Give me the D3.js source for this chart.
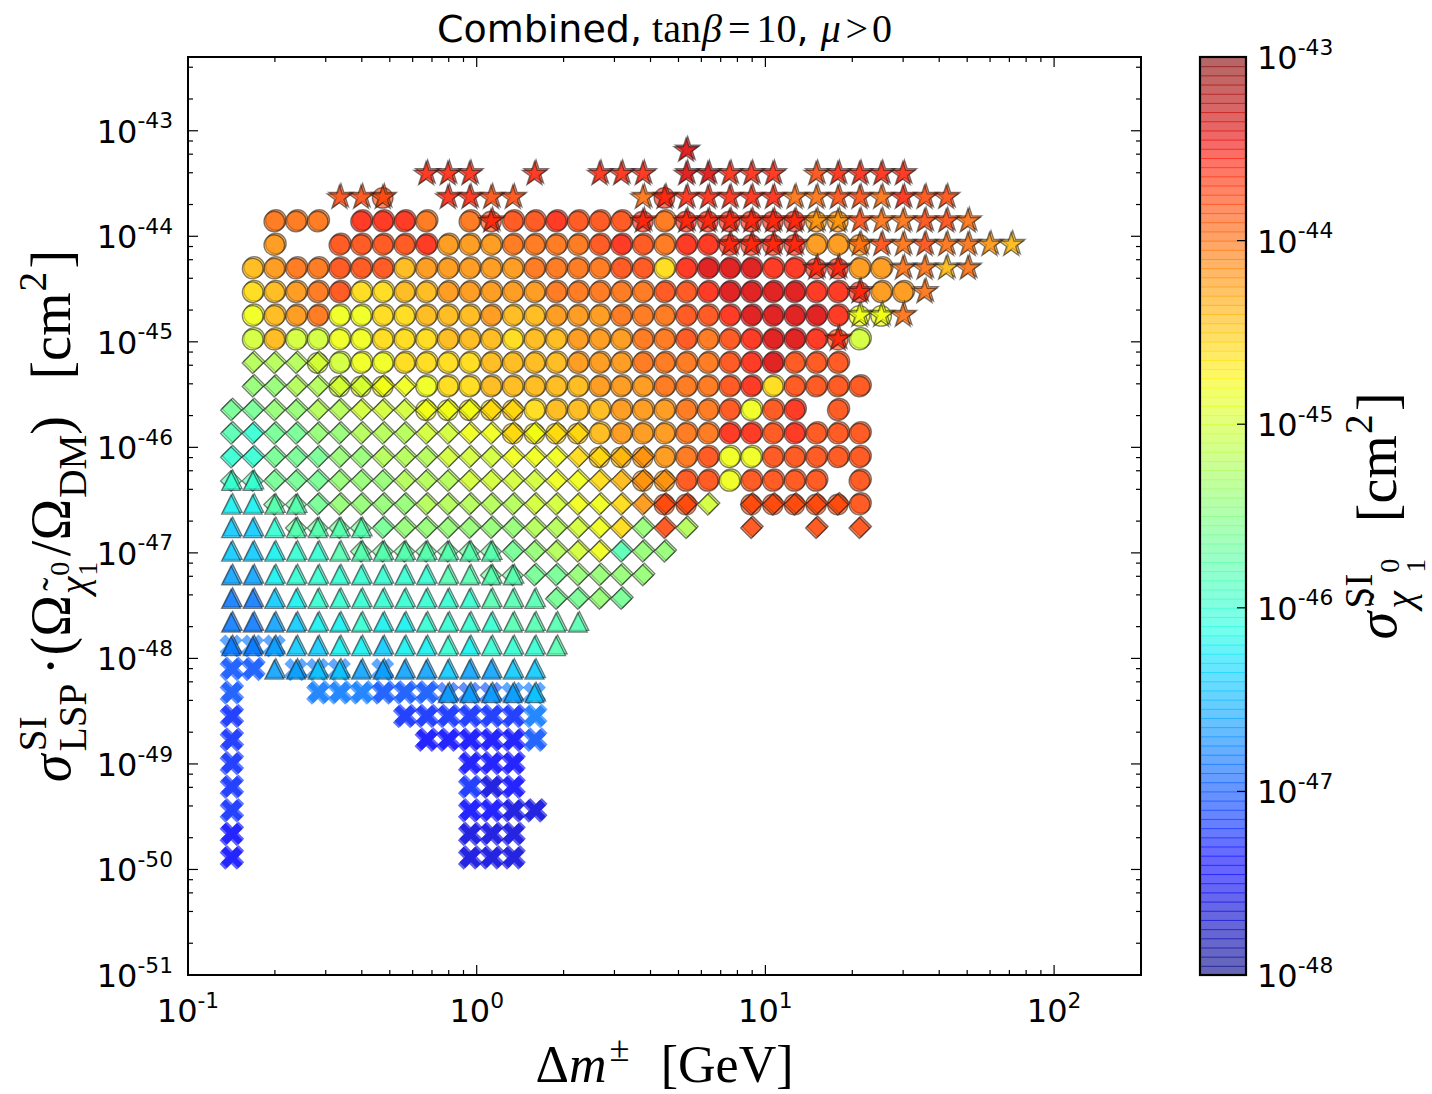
<!DOCTYPE html>
<html>
<head>
<meta charset="utf-8">
<script src="https://cdn.jsdelivr.net/npm/d3@7"></script>
<style>
  body { margin: 0; background: #fff; }
  svg { display: block; }
</style>
</head>
<body>
<div id="chart"></div>
<script>
// chargino-neutralino mass splitting bins (GeV), one per column of markers
const dmBins = [0.141, 0.1675, 0.199, 0.2366, 0.2812, 0.3344, 0.3975, 0.4725, 0.5617, 0.6677,
  0.7937, 0.9434, 1.121, 1.333, 1.585, 1.883, 2.239, 2.661, 3.163, 3.760,
  4.469, 5.312, 6.315, 7.506, 8.923, 10.61, 12.61, 14.98, 17.81, 21.17,
  25.17, 29.92, 35.56, 42.27, 50.23, 59.7, 71.0];

// rescaled cross-section bins (cm^2), one per row of markers, top to bottom
const sigmaRowBins = [6.47e-44, 3.87e-44, 2.31e-44, 1.38e-44, 8.26e-45, 4.94e-45, 2.95e-45, 1.76e-45,
  1.05e-45, 6.30e-46, 3.77e-46, 2.25e-46, 1.35e-46, 8.04e-47, 4.81e-47, 2.87e-47, 1.72e-47,
  1.03e-47, 6.14e-48, 3.67e-48, 2.19e-48, 1.31e-48, 7.83e-49, 4.68e-49, 2.80e-49, 1.67e-49,
  1.00e-49, 5.98e-50, 3.57e-50, 2.14e-50, 1.28e-50];

// colour code -> unscaled sigma_SI: code k means log10(sigma) = -48 + 0.2*k
const colourCodes = "0123456789ABCDEFGHIJKLMNOP";

// marker kinds: o circle, d diamond, t triangle, s star, x filled cross
// each cell is "<column><kind><colour>[<kind><colour>]"
const rows = [
  "21sN",
  "9sM 10sM 11sM 14sM 17sM 18sM 19sM 21sN 22sN 23sM 24sM 25sM 27sL 28sM 29sM 30sM 31sM",
  "5sL 6sL 7oLsL 10sM 11sM 12sL 13sL 19sK 20oMsM 21sM 22sM 23sM 24sM 25sM 26sK 27sK 28sL 29sL 30sK 31sM 32sL 33sL",
  "2oK 3oK 4oK 6oM 7oM 8oM 9oK 11oK 12oLsM 13oL 14oL 15oM 16oL 17oL 18oL 19oMsM 20oK 21oMsM 22oMsM 23oMsM 24oMsM 25oMsM 26oMsM 27oJsJ 28oJsJ 29sL 30sK 31sK 32sL 33sL 34sK",
  "2oJ 5oL 6oL 7oL 8oL 9oM 10oJ 11oJ 12oJ 13oK 14oK 15oK 16oK 17oL 18oM 19oL 20oK 21oM 22oM 23oMsM 24oMsM 25oMsM 26oMsM 27oJ 28oJ 29oJsK 30sL 31sK 32sL 33sK 34sK 35sJ 36sI",
  "1oI 2oJ 3oK 4oK 5oL 6oL 7oL 8oI 9oJ 10oJ 11oJ 12oJ 13oJ 14oK 15oK 16oK 17oK 18oL 19oL 20oH 21oM 22oN 23oN 24oN 25oM 26oM 27oMsM 28oMsM 29oJ 30oJ 31sK 32sK 33sI 34sK",
  "1oH 2oI 3oJ 4oK 5oL 6oH 7oH 8oI 9oI 10oJ 11oJ 12oJ 13oJ 14oJ 15oK 16oK 17oK 18oK 19oK 20oL 21oL 22oM 23oN 24oN 25oN 26oN 27oM 28oM 29oMsM 30oJ 31oJ 32sK",
  "1oG 2oI 3oJ 4oK 5oG 6oG 7oH 8oH 9oI 10oI 11oI 12oJ 13oI 14oI 15oJ 16oJ 17oJ 18oK 19oK 20oK 21oL 22oL 23oM 24oN 25oN 26oN 27oN 28oM 29oGsG 30oGsG 31sK",
  "1oF 2oI 3oF 4oF 5oG 6oG 7oH 8oH 9oH 10oI 11oI 12oI 13oH 14oI 15oI 16oJ 17oJ 18oJ 19oK 20oK 21oL 22oK 23oL 24oM 25oN 26oN 27oM 28oLsM 29oF",
  "1dE 2dE 3dE 4oFdF 5oF 6oG 7oG 8oH 9oH 10oH 11oH 12oI 13oI 14oI 15oI 16oJ 17oJ 18oJ 19oK 20oK 21oK 22oK 23oL 24oM 25oN 26oL 27oL 28oL",
  "1dD 2dD 3dE 4dE 5oFdF 6oGdF 7oGdG 8dG 9oG 10oH 11oH 12oI 13oI 14oI 15oI 16oI 17oJ 18oJ 19oJ 20oK 21oK 22oK 23oL 24oM 25oH 26oL 27oL 28oL 29oL",
  "0dC 1dC 2dD 3dD 4dE 5dE 6dF 7dF 8dF 9oGdG 10oGdG 11oHdG 12oHdH 13oIdH 14oH 15oI 16oI 17oI 18oJ 19oJ 20oJ 21oK 22oK 23oL 24oG 25oL 26oM 28oL",
  "0dB 1dA 2dC 3dC 4dD 5dD 6dE 7dE 8dE 9dF 10dF 11dG 12dG 13oHdH 14oHdG 15oHdH 16oIdH 17oI 18oJ 19oJ 20oJ 21oK 22oK 23oM 24oM 25oL 26oM 27oL 28oL 29oL",
  "0dA 1dA 2dC 3dC 4dC 5dD 6dD 7dE 8dE 9dE 10dF 11dF 12dF 13dG 14dG 15dG 16dH 17oIdH 18oIdI 19oJdJ 20oJ 21oK 22oL 23oG 24oG 25oL 26oL 27oL 28oL 29oL",
  "0dBtA 1dBtA 2dC 3dC 4dC 5dD 6dD 7dD 8dE 9dE 10dE 11dF 12dF 13dF 14dF 15dG 16dG 17dH 18dI 19oJdJ 20oJdJ 21oL 22oL 23oG 24oL 25oL 26oL 27oL 29oL",
  "0t9 1t9 2dCtB 3dCtB 4dC 5dD 6dD 7dD 8dD 9dE 10dE 11dE 12dE 13dE 14dF 15dF 16dG 17dG 18dH 19dJ 20oLdL 21oLdL 22dF 24oLdL 25oLdL 26oLdL 27oLdL 28oLdL 29oL",
  "0t8 1t8 2tA 3dCtB 4dCtB 5dCtB 6dCtB 7dC 8dD 9dD 10dD 11dD 12dD 13dD 14dE 15dE 16dF 17dG 18dH 19dD 20dL 21dE 24dL 27dL 29dL",
  "0t8 1t8 2t9 3tA 4tA 5tB 6dCtB 7dCtB 8dCtB 9dCtB 10dCtB 11dCtB 12dCtB 13dC 14dD 15dE 16dF 17dG 18dB 19dD 20dD",
  "0t7 1t7 2t9 3tA 4tA 5tA 6tA 7tA 8tA 9tA 10tB 11tB 12dCtB 13dCtB 14dC 15dC 16dD 17dD 18dD 19dD",
  "0t6 1t6 2t8 3t9 4tA 5tA 6tA 7tA 8tA 9tA 10tA 11tA 12tB 13tB 14tB 15dC 16dC 17dD 18dC",
  "0t6 1t6 2t7 3t8 4t9 5t9 6tA 7t9 8t9 9tA 10tA 11tA 12tA 13tB 14tB 15tB 16tB",
  "0x6t6 1x6t6 2x6t7 3t8 4t8 5t9 6t9 7t8 8t9 9t9 10tA 11t9 12tA 13tA 14tA 15tB",
  "0x5 1x5 2t7 3x6t7 4x6t8 5x6t8 6t7 7x6t7 8t7 9t7 10t8 11t7 12t7 13t8 14t8",
  "0x5 4x6 5x6 6x6 7x5 8x5 9x5 10x5t7 11x5t7 12x5t7 13x6t7 14x6t8",
  "0x4 8x4 9x4 10x4 11x4 12x4 13x4 14x6",
  "0x4 9x3 10x3 11x3 12x3 13x3 14x5",
  "0x4 11x3 12x3 13x3",
  "0x4 11x4 12x2 13x3",
  "0x4 11x3 12x3 13x2 14x2",
  "0x3 11x2 12x2 13x2",
  "0x3 11x2 12x2 13x2"
];

const xTicks = [0.1, 1, 10, 100];
const xTickExp = ["-1", "0", "1", "2"];
const yTicks = [1e-51, 1e-50, 1e-49, 1e-48, 1e-47, 1e-46, 1e-45, 1e-44, 1e-43];
const yTickExp = ["-51", "-50", "-49", "-48", "-47", "-46", "-45", "-44", "-43"];
const yMinorSubs = [2, 4, 6, 8];
const cbTicks = [1e-48, 1e-47, 1e-46, 1e-45, 1e-44, 1e-43];
const cbTickExp = ["-48", "-47", "-46", "-45", "-44", "-43"];

const W = 1432, H = 1094;
const plot = {left: 188, top: 57, right: 1141, bottom: 975};
const cb = {left: 1200, right: 1246};
const sans = "DejaVu Sans", serif = "Liberation Serif";

const svg = d3.select("#chart").append("svg")
  .attr("width", W).attr("height", H)
  .style("background", "#fff");

const x = d3.scaleLog().domain([0.1, 200]).range([plot.left, plot.right]);
const y = d3.scaleLog().domain([1e-51, 5e-43]).range([plot.bottom, plot.top]);

// matplotlib "jet"
const jetR = d3.scaleLinear().domain([0, 0.35, 0.66, 0.89, 1]).range([0, 0, 1, 1, 0.5]).clamp(true);
const jetG = d3.scaleLinear().domain([0, 0.125, 0.375, 0.64, 0.91, 1]).range([0, 0, 1, 1, 0, 0]).clamp(true);
const jetB = d3.scaleLinear().domain([0, 0.11, 0.34, 0.65, 1]).range([0.5, 1, 1, 0, 0]).clamp(true);
const cNorm = d3.scaleLog().domain([1e-48, 1e-43]).range([0, 1]).clamp(true);
const jet = v => {
  const f = cNorm(v);
  return d3.rgb(jetR(f) * 255, jetG(f) * 255, jetB(f) * 255).formatHex();
};

// ---- parse the cells
const points = [];
const layerOrder = {x: 0, o: 1, d: 2, t: 3, s: 4};
rows.forEach((row, ri) => {
  row.split(" ").forEach(cell => {
    const m = cell.match(/^(\d+)(.*)$/);
    const col = +m[1];
    const marks = m[2].match(/[a-z][0-9A-P]/g);
    const top = d3.max(marks, k => layerOrder[k[0]]);
    marks.forEach(k => {
      points.push({
        dm: dmBins[col],
        sig: sigmaRowBins[ri],
        kind: k[0],
        sigmaSI: Math.pow(10, -48 + 0.2 * colourCodes.indexOf(k[1])),
        copies: layerOrder[k[0]] === top ? 2 : 1
      });
    });
  });
});

// ---- marker shapes
function starPath(R) {
  const p = d3.path(), r = R * 0.382;
  for (let i = 0; i < 10; i++) {
    const a = -Math.PI / 2 + i * Math.PI / 5, rr = i % 2 ? r : R;
    const px = rr * Math.cos(a), py = rr * Math.sin(a);
    i ? p.lineTo(px, py) : p.moveTo(px, py);
  }
  p.closePath();
  return p.toString();
}
function crossPath(R, w) {
  // filled "X": a plus sign turned by 45 degrees
  const pts = [[w, w], [w, R], [-w, R], [-w, w], [-R, w], [-R, -w], [-w, -w], [-w, -R], [w, -R], [w, -w], [R, -w], [R, w]];
  const c = Math.SQRT1_2;
  return "M" + pts.map(([a, b]) => [(a - b) * c, (a + b) * c].join(",")).join("L") + "Z";
}
const shapePath = {
  o: (() => { const p = d3.path(); p.arc(0, 0, 10.3, 0, 2 * Math.PI); p.closePath(); return p.toString(); })(),
  s: starPath(12.8),
  d: "M0,-10.5L10.5,0L0,10.5L-10.5,0Z",
  t: "M0,-9.5L9.5,9.5L-9.5,9.5Z",
  x: crossPath(12.2, 4.1)
};

// ---- markers
svg.append("defs").append("clipPath").attr("id", "plotclip")
  .append("rect").attr("x", plot.left).attr("y", plot.top)
  .attr("width", plot.right - plot.left).attr("height", plot.bottom - plot.top);

const marksG = svg.append("g").attr("clip-path", "url(#plotclip)");
const ordered = points.slice().sort((a, b) => layerOrder[a.kind] - layerOrder[b.kind]);
ordered.forEach(d => {
  const cx = x(d.dm), cy = y(d.sig);
  const fill = jet(d.sigmaSI);
  const offs = d.copies === 2 ? [[1.6, -1.6], [0, 0]] : [[0, 0]];
  offs.forEach(([ox, oy]) => {
    marksG.append("path")
      .attr("d", shapePath[d.kind])
      .attr("transform", `translate(${cx + ox},${cy + oy})`)
      .attr("fill", fill)
      .attr("fill-opacity", 0.62)
      .attr("stroke", d.kind === "x" ? "none" : "#1a1a1a")
      .attr("stroke-opacity", 0.55)
      .attr("stroke-width", 1.3);
  });
});

// ---- frame, ticks
svg.append("rect")
  .attr("x", plot.left).attr("y", plot.top)
  .attr("width", plot.right - plot.left).attr("height", plot.bottom - plot.top)
  .attr("fill", "none").attr("stroke", "#000").attr("stroke-width", 2);

const tickG = svg.append("g").attr("stroke", "#000");
// x ticks point inward on both sides, minor ones at 2..9
x.ticks().forEach(v => {
  const isMajor = Math.abs(Math.log10(v) - Math.round(Math.log10(v))) < 1e-6;
  const len = isMajor ? 10 : 5;
  const px = x(v);
  if (px <= plot.left + 0.5 || px >= plot.right - 0.5) return;
  tickG.append("line").attr("x1", px).attr("x2", px).attr("y1", plot.bottom).attr("y2", plot.bottom - len).attr("stroke-width", 1.2);
  tickG.append("line").attr("x1", px).attr("x2", px).attr("y1", plot.top).attr("y2", plot.top + len).attr("stroke-width", 1.2);
});
// y ticks: decades plus minor ones at 2,4,6,8
const yTickList = [];
yTicks.forEach(v => {
  yTickList.push({v, len: 10});
  yMinorSubs.forEach(s => yTickList.push({v: v * s, len: 5}));
});
yTickList.forEach(({v, len}) => {
  const py = y(v);
  if (py >= plot.bottom - 0.5 || py <= plot.top + 0.5) return;
  tickG.append("line").attr("x1", plot.left).attr("x2", plot.left + len).attr("y1", py).attr("y2", py).attr("stroke-width", 1.2);
  tickG.append("line").attr("x1", plot.right).attr("x2", plot.right - len).attr("y1", py).attr("y2", py).attr("stroke-width", 1.2);
});

// power-of-ten labels
function powLabel(g, px, py, exp, anchor, size) {
  const t = g.append("text").attr("x", px).attr("y", py)
    .attr("text-anchor", anchor).attr("font-family", sans).attr("font-size", size).attr("fill", "#000");
  t.append("tspan").text("10");
  t.append("tspan").attr("dy", -size * 0.45).attr("font-size", size * 0.68).text(exp);
  return t;
}
const labG = svg.append("g");
xTicks.forEach((v, i) => powLabel(labG, x(v), 1022, xTickExp[i], "middle", 32));
yTicks.forEach((v, i) => powLabel(labG, 173, y(v) + 12, yTickExp[i], "end", 32));

// ---- math text helper (lays pieces out left to right, sub/superscripts may stack)
function mathText(parent, pieces, size) {
  const g = parent.append("g");
  let xc = 0, lastStart = 0;
  pieces.forEach(p => {
    const fs = size * (p.s || 1);
    const start = p.stack ? lastStart + (p.dx || 0) * size : xc + (p.gap || 0) * size;
    const t = g.append("text")
      .attr("x", start).attr("y", (p.dy || 0) * size)
      .attr("font-family", p.sans ? sans : serif)
      .attr("font-style", p.it ? "italic" : "normal")
      .attr("font-size", fs).attr("fill", "#000")
      .text(p.t);
    const w = t.node().getComputedTextLength();
    if (p.stack) xc = Math.max(xc, start + w);
    else { lastStart = start; xc = start + w; }
  });
  return {g, width: xc};
}

// title
{
  const m = mathText(svg, [
    {t: "Combined,", sans: true, s: 0.95},
    {t: "tan", gap: 0.25},
    {t: "β", it: true, gap: 0.03},
    {t: "=", gap: 0.15},
    {t: "10", gap: 0.15},
    {t: ",", sans: true, s: 0.95},
    {t: "μ", it: true, gap: 0.3},
    {t: ">", gap: 0.12},
    {t: "0", gap: 0.1}
  ], 40);
  m.g.attr("transform", `translate(${(plot.left + plot.right) / 2 - m.width / 2},42)`);
}

// x label
{
  const m = mathText(svg, [
    {t: "Δ"},
    {t: "m", it: true},
    {t: "±", s: 0.7, dy: -0.4, gap: 0.06},
    {t: "[GeV]", gap: 0.6}
  ], 52);
  m.g.attr("transform", `translate(${(plot.left + plot.right) / 2 - m.width / 2},1082)`);
}

// y label
{
  const m = mathText(svg, [
    {t: "σ", it: true},
    {t: "SI", s: 0.7, dy: -0.42, gap: 0.06},
    {t: "LSP", s: 0.7, dy: 0.28, stack: true},
    {t: "·", gap: 0.15},
    {t: "(", gap: 0.02},
    {t: "Ω"},
    {t: "χ", it: true, s: 0.7, dy: 0.3, gap: 0.02},
    {t: "˜", s: 0.7, dy: 0.0, stack: true, dx: 0.06},
    {t: "0", s: 0.5, dy: -0.02, gap: 0.02},
    {t: "1", s: 0.5, dy: 0.48, stack: true},
    {t: "/", gap: 0.1},
    {t: "Ω"},
    {t: "DM", s: 0.7, dy: 0.28, gap: 0.02},
    {t: ")"},
    {t: "[cm", gap: 0.65},
    {t: "2", s: 0.7, dy: -0.42, gap: 0.02},
    {t: "]", gap: 0.06}
  ], 56);
  m.g.attr("transform", `translate(70,${(plot.top + plot.bottom) / 2 + m.width / 2}) rotate(-90)`);
}

// ---- colour bar
const cy = d3.scaleLog().domain([1e-48, 1e-43]).range([plot.bottom, plot.top]);
const cbG = svg.append("g");
const nSeg = 100;
const segVals = d3.range(nSeg).map(i => Math.pow(10, -48 + 5 * (i + 0.5) / nSeg));
segVals.forEach((v, i) => {
  const yTop = plot.top + (plot.bottom - plot.top) * (nSeg - 1 - i) / nSeg;
  cbG.append("rect")
    .attr("x", cb.left).attr("width", cb.right - cb.left)
    .attr("y", yTop).attr("height", (plot.bottom - plot.top) / nSeg + 1)
    .attr("fill", jet(v)).attr("fill-opacity", 0.6);
});
cbG.append("rect")
  .attr("x", cb.left).attr("y", plot.top)
  .attr("width", cb.right - cb.left).attr("height", plot.bottom - plot.top)
  .attr("fill", "none").attr("stroke", "#000").attr("stroke-width", 2.2);
cbTicks.forEach((v, i) => {
  const py = cy(v);
  if (py > plot.top + 1 && py < plot.bottom - 1)
    cbG.append("line").attr("x1", cb.right).attr("x2", cb.right - 9).attr("y1", py).attr("y2", py)
      .attr("stroke", "#000").attr("stroke-width", 1.2);
  powLabel(cbG, 1257, py + 12, cbTickExp[i], "start", 32);
});

// colour bar label
{
  const m = mathText(svg, [
    {t: "σ", it: true},
    {t: "SI", s: 0.7, dy: -0.42, gap: 0.06},
    {t: "χ", it: true, s: 0.7, dy: 0.3, stack: true},
    {t: "˜", s: 0.7, dy: 0.0, stack: true, dx: 0.06},
    {t: "0", s: 0.5, dy: 0.06, gap: 0.02},
    {t: "1", s: 0.5, dy: 0.52, stack: true},
    {t: "[cm", gap: 0.65},
    {t: "2", s: 0.7, dy: -0.42, gap: 0.02},
    {t: "]", gap: 0.06}
  ], 56);
  m.g.attr("transform", `translate(1396,${(plot.top + plot.bottom) / 2 + m.width / 2}) rotate(-90)`);
}
</script>
</body>
</html>
